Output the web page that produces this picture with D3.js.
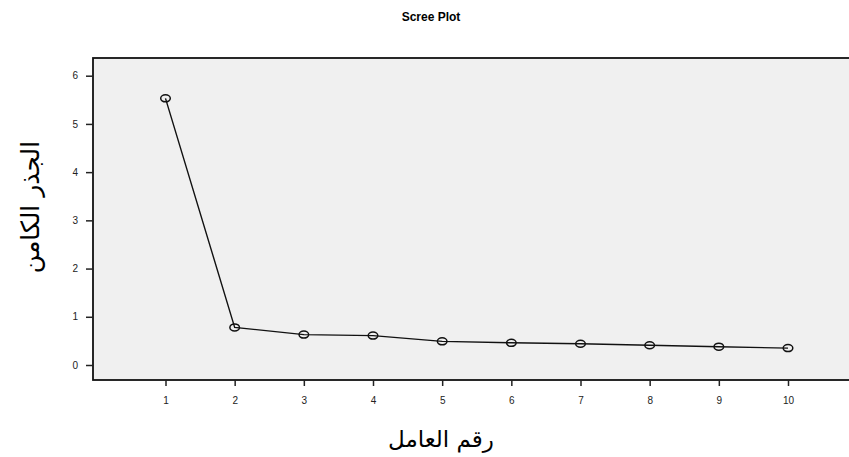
<!DOCTYPE html>
<html><head><meta charset="utf-8">
<script src="https://cdn.jsdelivr.net/npm/d3@7"></script>
<style>body{margin:0;background:#fff}svg{display:block}</style>
</head><body>
<script>
const factors = [1,2,3,4,5,6,7,8,9,10];
const eigenvalues = [5.53,0.78,0.63,0.61,0.49,0.46,0.44,0.41,0.38,0.35];
const yTicks = [0,1,2,3,4,5,6];
const title = "Scree Plot";
const xTitle = "رقم العامل";
const yTitle = "الجذر الكامن";

const W=849,H=457;
const svg=d3.select("body").append("svg").attr("width",W).attr("height",H);
const pl=93, pt=58, pr=852, pb=380;
const x=d3.scaleLinear().domain([1,10]).range([165.5,788]);
const y=d3.scaleLinear().domain([0,6]).range([365,75.7]);

svg.append("rect").attr("x",pl).attr("y",pt).attr("width",pr-pl).attr("height",pb-pt)
  .attr("fill","#f0f0f0").attr("stroke","#111").attr("stroke-width",1.8);

const gy=svg.append("g").attr("transform",`translate(${pl},0)`)
  .call(d3.axisLeft(y).tickValues(yTicks).tickSize(7).tickPadding(8).tickFormat(d3.format("d")));
gy.select(".domain").remove();
const gx=svg.append("g").attr("transform",`translate(0,${pb})`)
  .call(d3.axisBottom(x).tickValues(factors).tickSize(6).tickPadding(11).tickFormat(d3.format("d")));
gx.select(".domain").remove();
svg.selectAll(".tick line").attr("stroke","#222").attr("stroke-width",1.5);
svg.selectAll(".tick text").attr("font-family","Liberation Sans, Arial, sans-serif").attr("font-size",10).attr("fill","#222");

const data=factors.map((f,i)=>({f,v:eigenvalues[i]}));
svg.append("path").datum(data).attr("fill","none").attr("stroke","#111").attr("stroke-width",1.4)
  .attr("d",d3.line().x(d=>x(d.f)).y(d=>y(d.v)));
svg.selectAll("ellipse.pt").data(data).enter().append("ellipse").attr("class","pt")
  .attr("cx",d=>x(d.f)).attr("cy",d=>y(d.v)).attr("rx",4.8).attr("ry",3.5)
  .attr("fill","none").attr("stroke","#111").attr("stroke-width",1.5);

svg.append("text").attr("x",431).attr("y",21).attr("text-anchor","middle")
  .attr("font-family","Liberation Sans, Arial, sans-serif").attr("font-weight","bold").attr("font-size",12).text(title);
svg.append("text").attr("x",441).attr("y",447).attr("text-anchor","middle")
  .attr("font-family","DejaVu Serif, DejaVu Sans, serif").attr("font-size",23).attr("direction","rtl").text(xTitle);
svg.append("text").attr("transform","translate(39,207) rotate(-90)").attr("text-anchor","middle")
  .attr("font-family","DejaVu Serif, DejaVu Sans, serif").attr("font-size",25).attr("direction","rtl").text(yTitle);
</script>
</body></html>
